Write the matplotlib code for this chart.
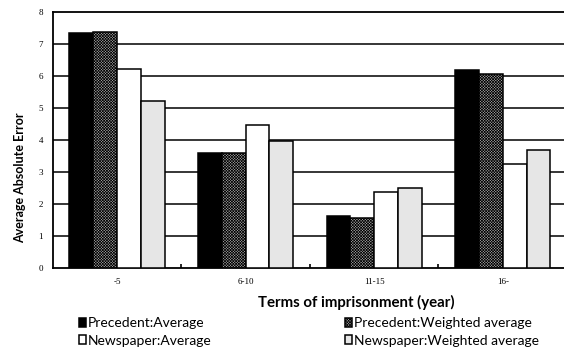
import numpy as np
import matplotlib
matplotlib.use("Agg")
import matplotlib.pyplot as plt

# average absolute error by sentence length
categories = ["-5", "6-10", "11-15", "16-"]
series_names = ["Precedent:Average", "Precedent:Weighted average",
                "Newspaper:Average", "Newspaper:Weighted average"]
prec_avg = [7.32, 3.58, 1.62, 6.18]
prec_wavg = [7.37, 3.60, 1.57, 6.04]
news_avg = [6.22, 4.47, 2.37, 3.25]
news_wavg = [5.20, 3.97, 2.51, 3.68]

plt.rcParams["hatch.linewidth"] = 0.5
plt.rcParams["hatch.color"] = "#3a3a3a"

fig = plt.figure(figsize=(5.64, 3.52), dpi=100)
ax = fig.add_axes([0.0934, 0.2386, 0.912, 0.7282])

x = np.arange(len(categories))
w = 0.185
styles = [
    dict(color="black", edgecolor="black"),
    dict(color="#a8a8a8", edgecolor="black", hatch="xxxxxxxxxxxx"),
    dict(color="white", edgecolor="black"),
    dict(color="#e6e6e6", edgecolor="black"),
]
bars = []
for i, (vals, st) in enumerate(zip([prec_avg, prec_wavg, news_avg, news_wavg], styles)):
    b = ax.bar(x + (i - 1.5) * w, vals, w, linewidth=1.1, zorder=3,
               label=series_names[i], **st)
    bars.append(b)

ax.set_xlim(-0.5, 3.5)
ax.set_ylim(0, 8)
ax.set_yticks(range(0, 9))
for y in range(1, 8):
    ax.axhline(y, color="black", linewidth=1.1, zorder=1)

for s in ["left", "top", "bottom"]:
    ax.spines[s].set_linewidth(1.3)
ax.spines["right"].set_visible(False)

ax.set_xticks(x)
ax.set_xticklabels(categories, family="Liberation Serif", fontsize=6.5)
ax.tick_params(axis="x", length=0, pad=7)
ax.set_xticks([0.5, 1.5, 2.5], minor=True)
ax.tick_params(axis="x", which="minor", direction="in", length=3, width=1.2)
ax.tick_params(axis="y", length=0, pad=7)
for t in ax.get_yticklabels():
    t.set_family("Liberation Serif")
    t.set_fontsize(6.5)

ax.set_ylabel("Average Absolute Error", family="Lato", fontweight="bold",
              fontsize=9)
ax.yaxis.set_label_coords(-0.051, 0.354)
ax.set_xlabel("Terms of imprisonment (year)", family="Lato", fontweight="bold",
              fontsize=10.8)
ax.xaxis.set_label_coords(0.59, -0.105)

handles = [bars[0], bars[2], bars[1], bars[3]]
labels = [series_names[0], series_names[2], series_names[1], series_names[3]]
leg = fig.legend(handles, labels, ncol=2, loc="upper left",
                 bbox_to_anchor=(0.127, 0.118), frameon=False,
                 prop=dict(family="Lato", size=10),
                 handlelength=0.5, handleheight=0.55, handletextpad=0.15,
                 columnspacing=9.6, labelspacing=0.37, borderpad=0)

fig.savefig("out.png", dpi=100)
